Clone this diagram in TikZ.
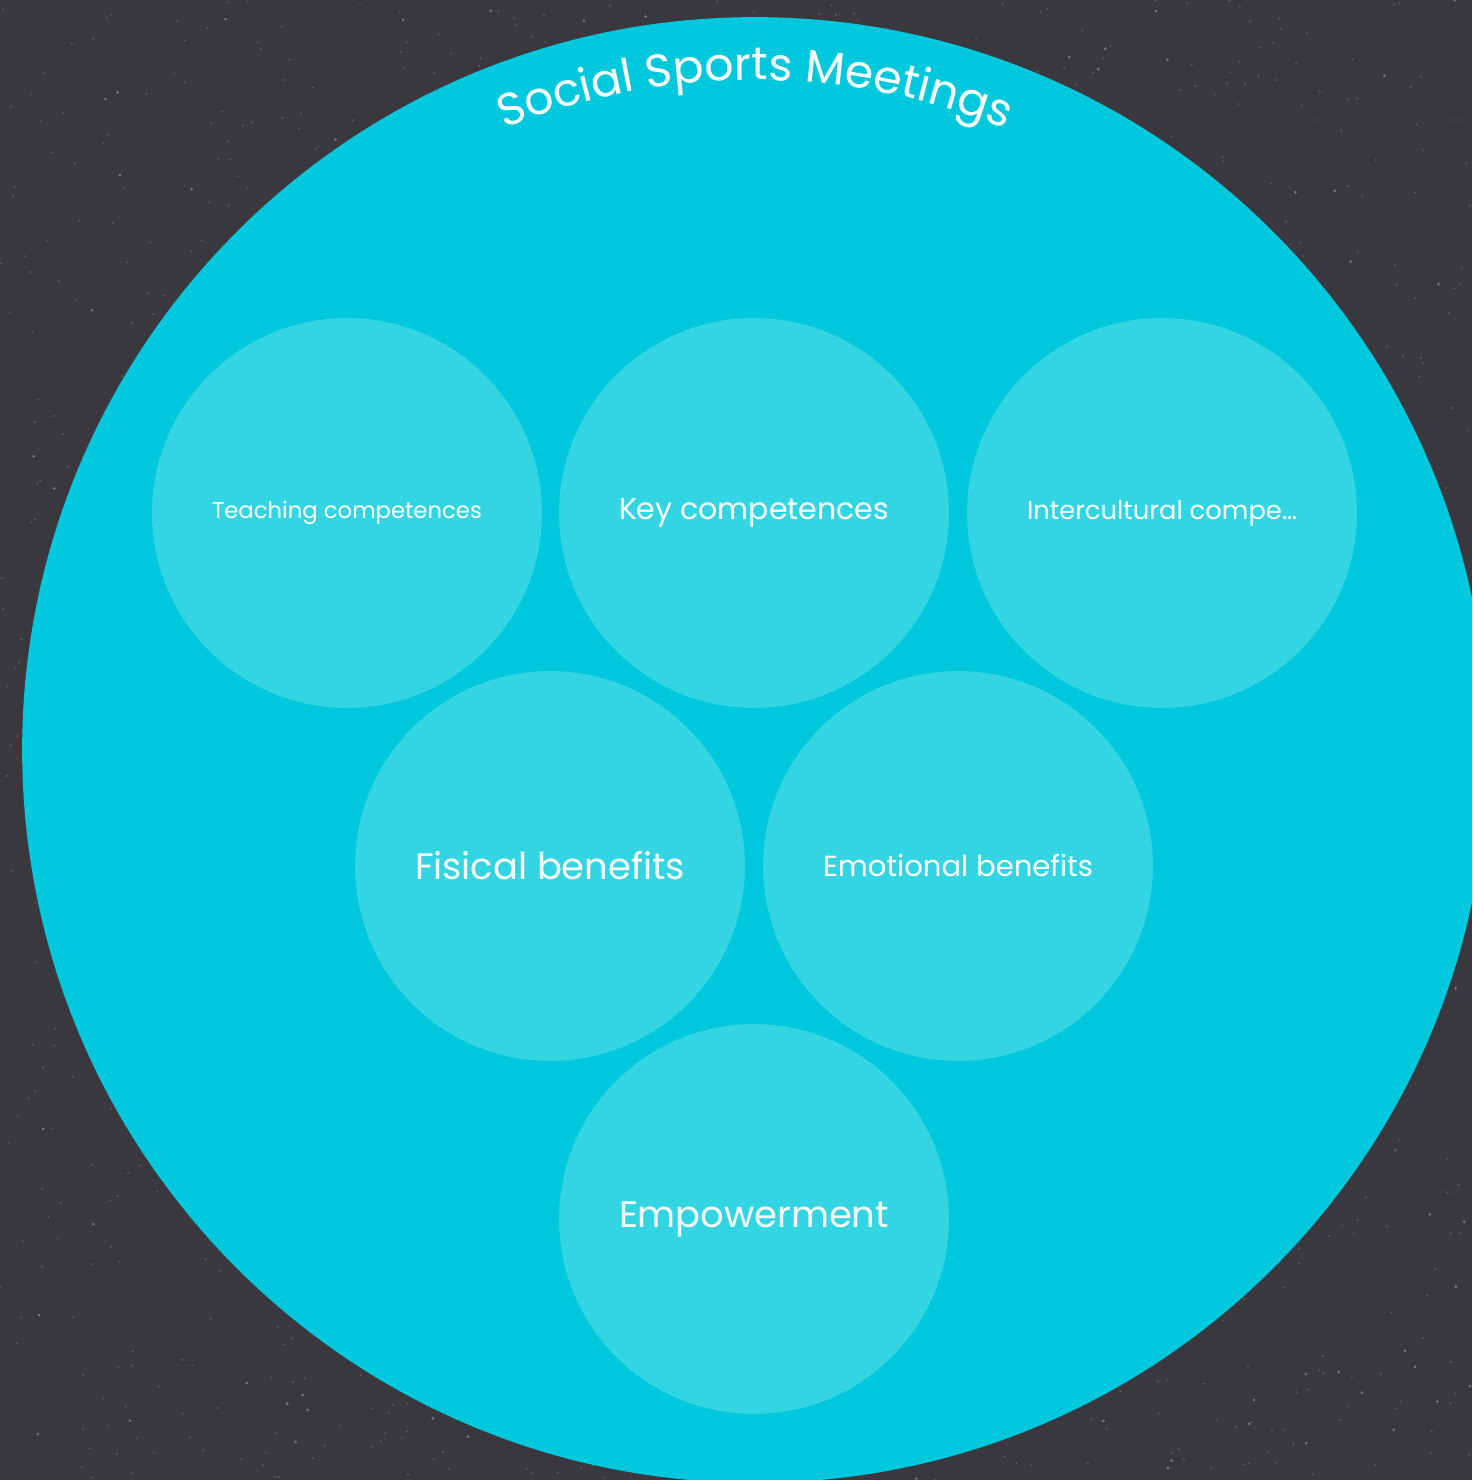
\documentclass[tikz,border=0pt]{standalone}
\usepackage{fontspec}
\setmainfont{Poppins}
\usetikzlibrary{decorations.text}

\definecolor{board}{HTML}{3A383E}
\definecolor{chalk}{HTML}{8A888E}
\definecolor{sea}{HTML}{00C8DC}
\definecolor{seaLight}{HTML}{34D5E3}

\begin{document}
\begin{tikzpicture}
  [x=0.02cm, y=0.02cm,
    board circle/.style={
      circle,
      fill=sea,
      minimum size=29.32cm
    },
    every topic/.style={
      circle,
      fill=seaLight,
      text=white,
      minimum size=7.8cm,
      inner sep=0pt
    },
  ]
\useasboundingbox (0,0) rectangle (1472,1480);
\clip (0,0) rectangle (1472,1480);

% Chalkboard background with some speckles
\fill [board] (0,0) rectangle (1472,1480);
\pgfmathsetseed{7}
\foreach \i in {1,...,1600}
  \fill [chalk, opacity=0.45] (1472*rnd,1480*rnd) circle (1.1);
\foreach \i in {1,...,250}
  \fill [white, opacity=0.35] (1472*rnd,1480*rnd) circle (1.4);

% Outer circle
\node [board circle] (meetings) at (755,730) {};

% Title along the top of the outer circle
\path [decorate, decoration={text along path, text align=center,
    text={|\fontsize{26}{26}\selectfont\color{white}|Social Sports Meetings}}]
  (meetings.center) ++(114:670) arc [start angle=114, end angle=66, radius=670];

% Draw topic circles
\foreach \m/\x/\y/\l in {
    teaching/347/967/Teaching competences,
    key/754/967/Key competences,
    intercultural/1162/967/Intercultural compe\dots,
    fisical/550/614/Fisical benefits,
    emotional/958/614/Emotional benefits,
    empowerment/754/261/Empowerment}
  \node [every topic] (topic-\m) at (\x,\y) {\resizebox{5.4cm}{!}{\l}};
\end{tikzpicture}
\end{document}
